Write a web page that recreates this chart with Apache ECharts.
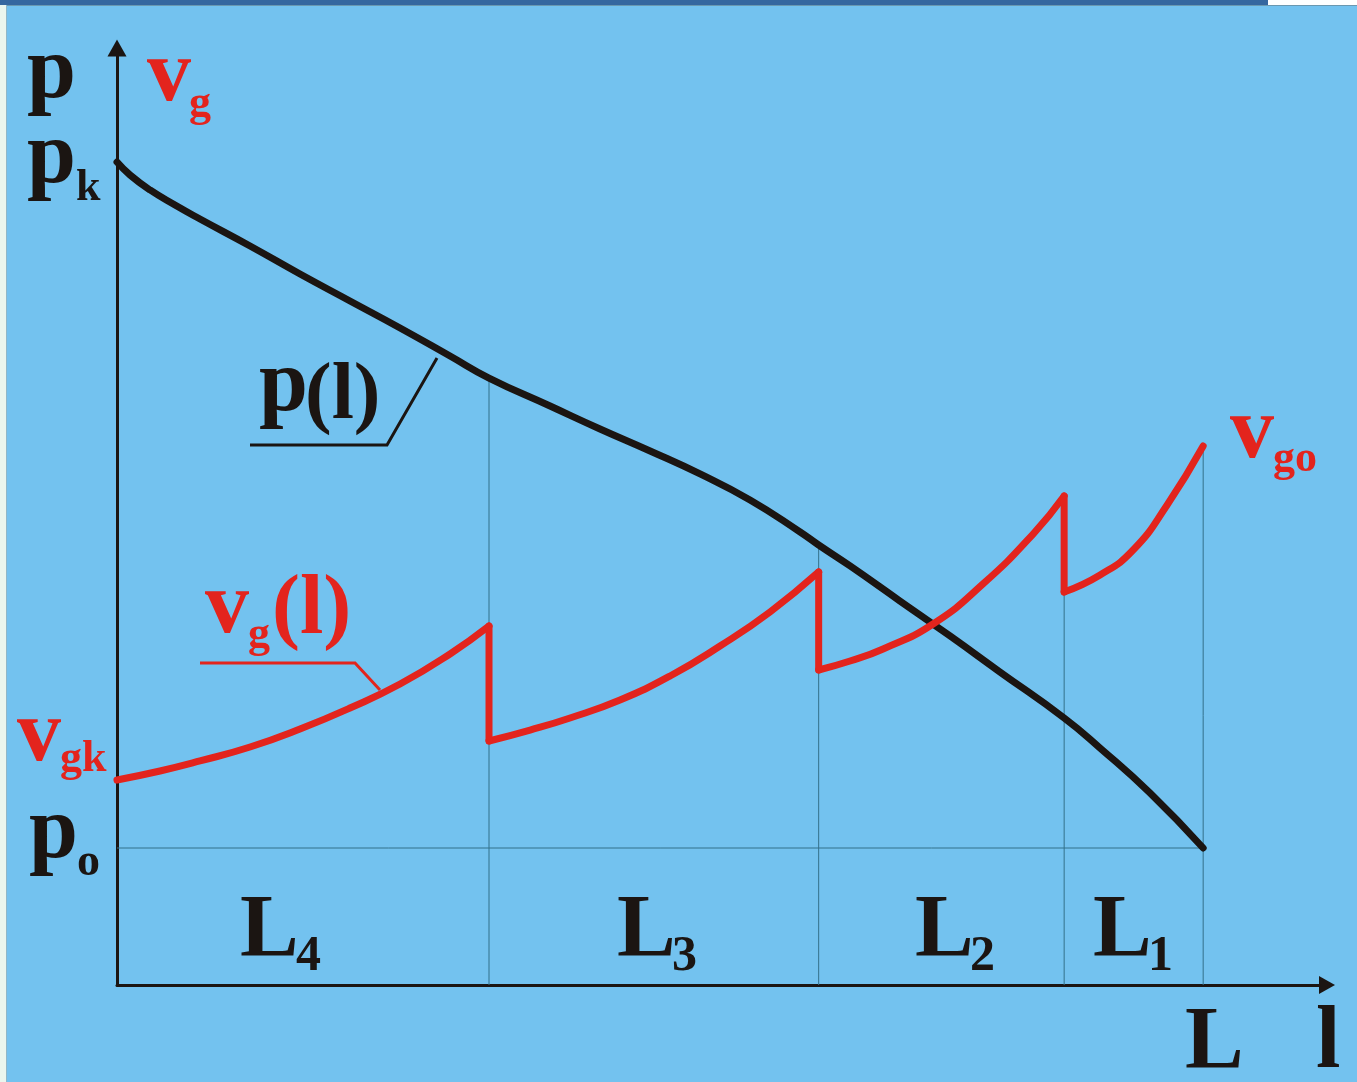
<!DOCTYPE html>
<html>
<head>
<meta charset="utf-8">
<script src="https://cdn.jsdelivr.net/npm/echarts@6/dist/echarts.min.js"></script>
<style>
  html, body { margin: 0; padding: 0; background: #73c2ef; }
  #chart { width: 1357px; height: 1082px; }
</style>
</head>
<body>
<div id="chart"></div>
<script>
// Distance along the pipeline l (L = 100) and pressure p(l)
const pL = [0, 1.20, 3.04, 5.34, 7.64, 12.25, 16.85, 21.45, 26.06, 30.66, 34.25, 39.87, 44.47, 49.08, 53.68, 58.28, 62.89, 64.6, 67.49, 72.09, 76.69, 81.30, 87.2, 90.51, 95.11, 100];
const pV = [87.83, 86.45, 84.85, 83.24, 81.75, 78.87, 75.88, 73.00, 70.12, 67.13, 64.78, 61.79, 59.34, 56.99, 54.54, 51.76, 48.35, 46.96, 44.72, 40.98, 37.25, 33.40, 28.50, 25.29, 20.49, 14.62];

// Gas velocity vg(l), one rising piece per section (L4, L3, L2, L1)
const vgL4 = [0, 3.96, 7.64, 12.25, 16.85, 21.45, 26.06, 30.66, 34.25];
const vgV4 = [21.88, 22.84, 23.91, 25.40, 27.32, 29.56, 32.12, 35.33, 38.31];
const vgL3 = [34.25, 38.03, 41.71, 46.31, 50.92, 55.52, 60.12, 64.6];
const vgV3 = [26.04, 27.21, 28.50, 30.42, 32.98, 36.18, 39.81, 44.08];
const vgL2 = [64.6, 67.49, 70.53, 75.13, 79.73, 84.34, 87.2];
const vgV2 = [33.62, 34.58, 35.86, 38.53, 42.80, 48.13, 52.19];
const vgL1 = [87.2, 90.51, 93.55, 96.68, 100];
const vgV1 = [41.94, 43.76, 46.42, 51.23, 57.52];

// Section boundaries along l
const sectionEnds = [34.25, 64.6, 87.2, 100];

const BLACK = '#1b1512';
const RED = '#e3241d';
const GUIDE = '#33708a';
const FONT = '"Liberation Serif", "Times New Roman", serif';

const zip = (xs, ys) => xs.map((x, i) => [x, ys[i]]);
const pData = zip(pL, pV);
const vgPieces = [zip(vgL4, vgV4), zip(vgL3, vgV3), zip(vgL2, vgV2), zip(vgL1, vgV1)];
const p0 = pV[pV.length - 1];

// highest curve value at a given l
function topAt(l) {
  let top = -Infinity;
  [pData].concat(vgPieces).forEach(arr => arr.forEach(([x, y]) => { if (x === l && y > top) top = y; }));
  return top;
}

const series = [];

// thin guides: p0 level and section verticals
series.push({
  type: 'line', data: [[0, p0], [sectionEnds[sectionEnds.length - 1], p0]],
  symbol: 'none', silent: true, z: 1,
  lineStyle: { color: GUIDE, width: 1 }
});
sectionEnds.forEach(l => {
  series.push({
    type: 'line', data: [[l, 0], [l, topAt(l)]],
    symbol: 'none', silent: true, z: 1,
    lineStyle: { color: GUIDE, width: 1 }
  });
});

// pressure curve
series.push({
  type: 'line', data: pData, smooth: 0.5, symbol: 'none', z: 3,
  lineStyle: { color: BLACK, width: 7, cap: 'round' }
});

// velocity pieces and the vertical drops between them
vgPieces.forEach((piece, i) => {
  series.push({
    type: 'line', data: piece, smooth: 0.5, symbol: 'none', z: 4,
    lineStyle: { color: RED, width: 7, cap: 'round' }
  });
  if (i > 0) {
    const prev = vgPieces[i - 1];
    series.push({
      type: 'line', data: [prev[prev.length - 1], piece[0]], symbol: 'none', z: 4,
      lineStyle: { color: RED, width: 7, cap: 'round' }
    });
  }
});

// text helper: x = left edge, b = baseline
function txt(s, x, b, size, color) {
  return {
    type: 'text', x: x, y: b - 0.26 * size, z: 10, silent: true,
    style: {
      text: s, fill: color,
      font: 'bold ' + size + 'px ' + FONT,
      align: 'left', verticalAlign: 'middle'
    }
  };
}

const graphics = [
  // frame decorations
  { type: 'rect', shape: { x: 0, y: 0, width: 1268, height: 5 }, style: { fill: '#35679f' }, z: 0 },
  { type: 'rect', shape: { x: 1268, y: 0, width: 89, height: 5 }, style: { fill: '#ffffff' }, z: 0 },
  { type: 'rect', shape: { x: 0, y: 5, width: 1357, height: 1 }, style: { fill: '#6a98b0' }, z: 0 },
  { type: 'rect', shape: { x: 0, y: 5, width: 6, height: 1077 }, style: { fill: '#eaf6ee' }, z: 0 },
  { type: 'rect', shape: { x: 6, y: 5, width: 1, height: 1077 }, style: { fill: '#8fb7c8' }, z: 0 },

  // axis names and levels
  txt('p', 27, 97, 88, BLACK),
  txt('p', 27, 182, 88, BLACK), txt('k', 76, 200, 44, BLACK),
  txt('v', 147, 100, 88, RED), txt('g', 189, 116, 44, RED),
  txt('v', 17, 760, 88, RED), txt('gk', 60, 771, 44, RED),
  txt('p', 29, 857, 88, BLACK), txt('o', 77, 875, 46, BLACK),
  txt('v', 1230, 457, 88, RED), txt('go', 1273, 471, 44, RED),

  // curve names with leaders
  txt('p', 259, 410, 88, BLACK), txt('(l)', 305, 418, 80, BLACK),
  { type: 'polyline', z: 5, shape: { points: [[250, 445], [387, 445], [437, 358]] },
    style: { stroke: BLACK, lineWidth: 3, fill: null } },
  txt('v', 205, 632, 88, RED), txt('g', 248, 647, 44, RED), txt('(l)', 272, 633, 84, RED),
  { type: 'polyline', z: 5, shape: { points: [[200, 663], [355, 663], [380, 690]] },
    style: { stroke: RED, lineWidth: 3, fill: null } },

  // section names
  txt('L', 240, 955, 88, BLACK), txt('4', 296, 970, 50, BLACK),
  txt('L', 617, 955, 88, BLACK), txt('3', 672, 970, 50, BLACK),
  txt('L', 915, 955, 88, BLACK), txt('2', 970, 970, 50, BLACK),
  txt('L', 1093, 955, 88, BLACK), txt('1', 1148, 970, 50, BLACK),

  // axis end labels
  txt('L', 1185, 1067, 88, BLACK),
  txt('l', 1316, 1067, 88, BLACK)
];

const chart = echarts.init(document.getElementById('chart'), null, { renderer: 'canvas' });
chart.setOption({
  backgroundColor: 'transparent',
  animation: false,
  grid: { left: 117, right: 30, top: 48, bottom: 97 },
  xAxis: {
    type: 'value', min: 0, max: 111.4,
    axisLine: { show: true, onZero: false, symbol: ['none', 'triangle'], symbolSize: [18, 16],
      lineStyle: { color: BLACK, width: 3 } },
    axisTick: { show: false }, axisLabel: { show: false }, splitLine: { show: false }
  },
  yAxis: {
    type: 'value', min: 0, max: 100,
    axisLine: { show: true, onZero: false, symbol: ['none', 'triangle'], symbolSize: [19, 17],
      lineStyle: { color: BLACK, width: 3 } },
    axisTick: { show: false }, axisLabel: { show: false }, splitLine: { show: false }
  },
  series: series,
  graphic: graphics
});
</script>
</body>
</html>
